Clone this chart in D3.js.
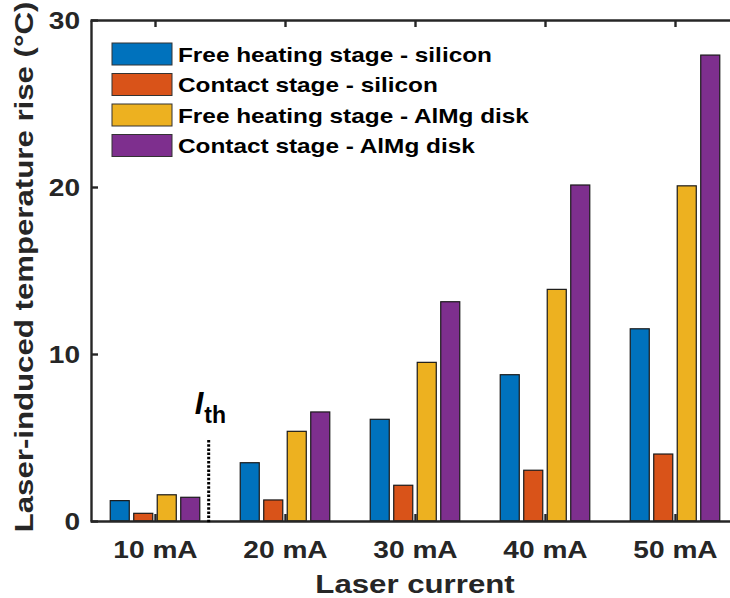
<!DOCTYPE html>
<html>
<head>
<meta charset="utf-8">
<script src="https://cdn.jsdelivr.net/npm/d3@7/dist/d3.min.js"></script>
<style>
  html, body { margin: 0; padding: 0; background: #fff; }
  svg { display: block; }
  text { font-family: "Liberation Sans", Arial, Helvetica, sans-serif; font-weight: bold; }
</style>
</head>
<body>
<svg id="chart" width="730" height="598"></svg>
<script>
// Laser current categories and the four measured series (°C rise)
const categories = ["10 mA", "20 mA", "30 mA", "40 mA", "50 mA"];
const seriesNames = [
  "Free heating stage - silicon",
  "Contact stage - silicon",
  "Free heating stage - AlMg disk",
  "Contact stage - AlMg disk"
];
const freeSilicon    = [1.22, 3.49, 6.09, 8.76, 11.51];
const contactSilicon = [0.46, 1.26, 2.14, 3.04, 4.01];
const freeAlMg       = [1.57, 5.37, 9.50, 13.87, 20.07];
const contactAlMg    = [1.42, 6.53, 13.13, 20.12, 27.90];
const yTicks = [0, 10, 20, 30];
// Threshold current marker, in category-index units (between 10 mA and 20 mA)
const thresholdIndex = 1.413;
const thresholdTop = 4.85;

const seriesValues = [freeSilicon, contactSilicon, freeAlMg, contactAlMg];
const colors = ["#0072BD", "#D95319", "#EDB120", "#7E2F8E"];
const axisColor = "#262626";
const stretch = 1.17; // horizontal text widening

const svg = d3.select("#chart");
const plot = { left: 90, right: 740, top: 20, bottom: 521 };

const xIdx = d3.scaleLinear().domain([0.5, 5.5]).range([plot.left, plot.right]);
const y = d3.scaleLinear().domain([0, 30]).range([plot.bottom, plot.top]);
const xSub = d3.scaleBand().domain(d3.range(4)).range([-47, 47])
  .paddingInner(0.19).paddingOuter(0.095);

// Bars
const groups = svg.append("g").selectAll("g")
  .data(categories)
  .join("g")
  .attr("transform", (d, i) => `translate(${xIdx(i + 1)},0)`);

groups.selectAll("rect")
  .data((d, i) => seriesValues.map((s, k) => ({ k, v: s[i] })))
  .join("rect")
  .attr("x", d => xSub(d.k))
  .attr("width", xSub.bandwidth())
  .attr("y", d => y(d.v))
  .attr("height", d => y(0) - y(d.v))
  .attr("fill", d => colors[d.k])
  .attr("stroke", "#1a1a1a")
  .attr("stroke-width", 1.2);

// Axes (box with inward ticks)
const axes = svg.append("g");

const leftAxis = axes.append("g")
  .attr("transform", `translate(${plot.left + 1},0)`)
  .call(d3.axisLeft(y).tickValues(yTicks).tickSizeInner(-7).tickSizeOuter(0).tickPadding(11));

const bottomAxis = axes.append("g")
  .attr("transform", `translate(0,${plot.bottom})`)
  .call(d3.axisBottom(xIdx).tickValues(d3.range(1, 6))
    .tickFormat(i => categories[i - 1]).tickSizeInner(-7).tickSizeOuter(0).tickPadding(0));

axes.append("g")
  .attr("transform", `translate(0,${plot.top})`)
  .call(d3.axisTop(xIdx).tickValues(d3.range(1, 6)).tickFormat("").tickSizeInner(-7).tickSizeOuter(0));

axes.append("g")
  .attr("transform", `translate(${plot.right},0)`)
  .call(d3.axisRight(y).tickValues(yTicks).tickFormat("").tickSizeInner(-7).tickSizeOuter(0));

axes.selectAll(".domain").attr("stroke", axisColor).attr("stroke-width", 2.4);
axes.selectAll(".tick line").attr("stroke", axisColor).attr("stroke-width", 2.4);

leftAxis.selectAll(".tick text")
  .attr("fill", axisColor)
  .style("font-size", "24px")
  .attr("x", -11 / stretch)
  .attr("dy", "0.36em")
  .attr("transform", `scale(${stretch},1)`);

bottomAxis.selectAll(".tick text")
  .attr("fill", axisColor)
  .style("font-size", "24px")
  .attr("y", 37)
  .attr("dy", 0)
  .attr("transform", `scale(${stretch},1)`);

// Axis titles
svg.append("text")
  .attr("transform", `translate(${(plot.left + plot.right) / 2},593) scale(${stretch + 0.03},1)`)
  .attr("text-anchor", "middle")
  .attr("fill", axisColor)
  .style("font-size", "26px")
  .text("Laser current");

svg.append("text")
  .attr("transform", `translate(33,267) rotate(-90) scale(1.2,1)`)
  .attr("text-anchor", "middle")
  .attr("fill", axisColor)
  .style("font-size", "26px")
  .text("Laser-induced temperature rise (°C)");

// Threshold marker
svg.append("line")
  .attr("x1", xIdx(thresholdIndex)).attr("x2", xIdx(thresholdIndex))
  .attr("y1", y(thresholdTop)).attr("y2", y(0) + 2)
  .attr("stroke", "#000")
  .attr("stroke-width", 3)
  .attr("stroke-dasharray", "2.5,1.7");

const ith = svg.append("text")
  .attr("x", xIdx(thresholdIndex) - 14)
  .attr("y", 414)
  .attr("fill", "#000");
ith.append("tspan").style("font-size", "31px").style("font-style", "italic").text("I");
ith.append("tspan").style("font-size", "23px").attr("dy", 9).attr("dx", 1).text("th");

// Legend
const legend = svg.append("g").attr("transform", "translate(112,43)");
const rows = legend.selectAll("g")
  .data(seriesNames)
  .join("g")
  .attr("transform", (d, i) => `translate(0,${i * 30.5})`);
rows.append("rect")
  .attr("width", 60).attr("height", 22)
  .attr("fill", (d, i) => colors[i])
  .attr("stroke", "#333").attr("stroke-width", 1);
rows.append("text")
  .attr("transform", `translate(66,18.5) scale(${stretch - 0.01},1)`)
  .attr("fill", "#000")
  .style("font-size", "21px")
  .text(d => d);
</script>
</body>
</html>
